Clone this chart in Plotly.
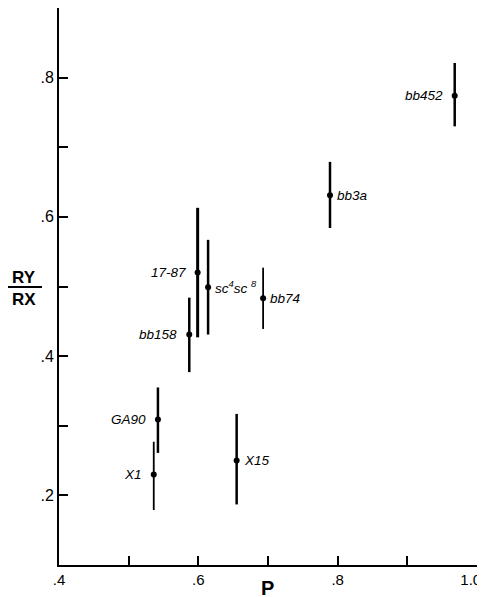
import plotly.graph_objects as go

names = ["bb452", "bb3a", "17-87", "sc<sup>4</sup>sc <sup>8</sup>", "bb74", "bb158", "GA90", "X1", "X15"]
p_vals = [0.968, 0.789, 0.599, 0.614, 0.693, 0.587, 0.542, 0.536, 0.655]
ratio_vals = [0.774, 0.631, 0.520, 0.499, 0.483, 0.431, 0.309, 0.230, 0.250]
err_up = [0.047, 0.048, 0.093, 0.068, 0.044, 0.053, 0.046, 0.047, 0.067]
err_down = [0.044, 0.047, 0.093, 0.068, 0.044, 0.054, 0.048, 0.051, 0.063]
label_side = ["left", "right", "left", "right", "right", "left", "left", "left", "right"]
bar_width = [2.5, 2.5, 3, 2.5, 1.8, 2.5, 2.5, 1.8, 2.5]

x_ticks = [0.4, 0.5, 0.6, 0.7, 0.8, 0.9, 1.0]
x_ticktext = [".4", "", ".6", "", ".8", "", "1.0&nbsp;&nbsp;&nbsp;"]
y_ticks = [0.2, 0.3, 0.4, 0.5, 0.6, 0.7, 0.8]
y_ticktext = [".2", "", ".4", "", ".6", "", ".8"]

# page body has an 8px default margin: the figure starts at (8, 8) in the window
OFF = 8
WIN_W, WIN_H = 485, 597
W, H = WIN_W - OFF, WIN_H - OFF
PL, PR, PT, PB = 59, 477, 8, 565          # plot area in window pixels
L, R, T, B = PL - OFF, WIN_W - PR, PT - OFF, WIN_H - PB
pw, ph = W - L - R, H - T - B


def px_to_paper(px, py):
    return (px - PL) / pw, 1 - (py - PT) / ph


fig = go.Figure()
for i in range(len(names)):
    fig.add_trace(go.Scatter(
        x=[p_vals[i]], y=[ratio_vals[i]], mode="markers",
        marker=dict(color="black", size=6),
        error_y=dict(type="data", symmetric=False, array=[err_up[i]], arrayminus=[err_down[i]],
                     color="black", thickness=bar_width[i], width=0),
        showlegend=False, hoverinfo="skip"))

annotations = []
for i in range(len(names)):
    left = label_side[i] == "left"
    annotations.append(dict(
        x=p_vals[i], y=ratio_vals[i], xref="x", yref="y",
        text="<i>" + names[i] + "</i>", showarrow=False,
        xanchor="right" if left else "left",
        xshift=-10 if left else 5,
        font=dict(size=13.5, color="black", family="Liberation Sans")))

for txt, px, py, size in [("<b>RY</b>", 24, 277, 17), ("<b>RX</b>", 24, 299, 17), ("<b>P</b>", 267, 588, 20)]:
    x, y = px_to_paper(px, py)
    annotations.append(dict(x=x, y=y, xref="paper", yref="paper", text=txt, showarrow=False,
                            xanchor="center", yanchor="middle",
                            font=dict(size=size, color="black", family="Liberation Sans")))

x0, y0 = px_to_paper(7, 287)
x1, _ = px_to_paper(42, 287)
shapes = [dict(type="line", xref="paper", yref="paper", x0=x0, x1=x1, y0=y0, y1=y0,
               line=dict(color="black", width=2))]

fig.update_layout(
    width=W, height=H,
    margin=dict(l=L, r=R, t=T, b=B, pad=0, autoexpand=False),
    plot_bgcolor="white", paper_bgcolor="white",
    annotations=annotations, shapes=shapes,
    font=dict(family="Liberation Sans", color="black"),
    xaxis=dict(range=[0.4, 1.0], tickvals=x_ticks, ticktext=x_ticktext,
               ticks="inside", ticklen=9, tickwidth=2, tickcolor="black",
               showline=True, linecolor="black", linewidth=2,
               showgrid=False, zeroline=False, automargin=False,
               ticklabeloverflow="allow",
               tickfont=dict(size=15, color="black")),
    yaxis=dict(range=[0.1, 0.9], tickvals=y_ticks, ticktext=y_ticktext,
               ticks="inside", ticklen=9, tickwidth=2, tickcolor="black",
               showline=True, linecolor="black", linewidth=2,
               showgrid=False, zeroline=False, automargin=False,
               tickfont=dict(size=16, color="black")),
)

fig.write_html("out.html")
